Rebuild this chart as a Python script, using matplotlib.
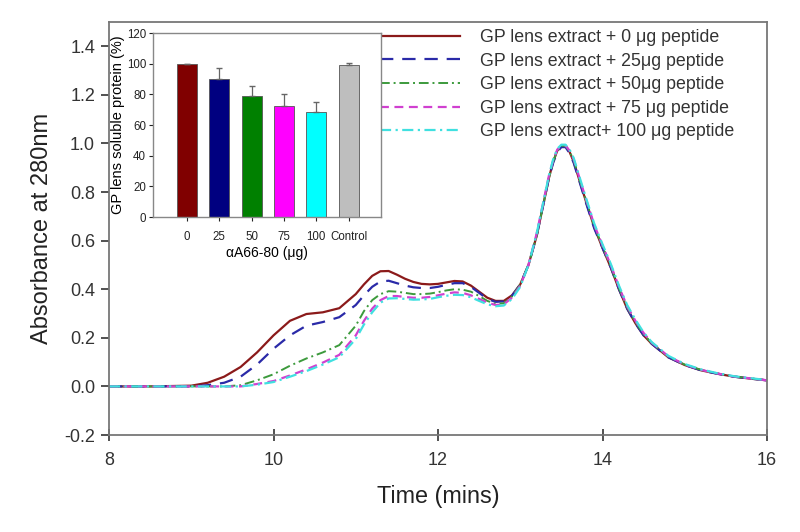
import matplotlib
matplotlib.use("Agg")
import matplotlib.pyplot as plt

plt.rcParams['font.family'] = ['Liberation Sans', 'DejaVu Sans']

# ---- main chromatogram data ----
time = [8.0, 8.5, 9.0, 9.2, 9.4, 9.6, 9.8,
        10.0, 10.2, 10.4, 10.6, 10.8,
        11.0, 11.1, 11.2, 11.3, 11.4, 11.5, 11.6, 11.7, 11.8, 11.9,
        12.0, 12.1, 12.2, 12.3, 12.4, 12.5, 12.6, 12.7, 12.8, 12.9,
        13.0, 13.1, 13.2,
        13.25, 13.3, 13.35, 13.4, 13.45, 13.5, 13.55, 13.6, 13.65, 13.7, 13.75, 13.8,
        13.9, 14.0, 14.1, 14.2, 14.3, 14.4, 14.5, 14.6,
        14.8, 15.0, 15.2, 15.4, 15.6, 15.8, 16.0]

abs_0 = [0.0, 0.0, 0.003, 0.015, 0.04, 0.08, 0.14,
         0.21, 0.27, 0.298, 0.305, 0.322,
         0.38, 0.42, 0.455, 0.474, 0.475, 0.46, 0.443, 0.43, 0.422, 0.42,
         0.422, 0.428, 0.434, 0.432, 0.415, 0.39, 0.365, 0.352, 0.352, 0.375,
         0.42, 0.50, 0.62,
         0.70, 0.78, 0.86, 0.925, 0.97, 0.99, 0.99, 0.965, 0.925, 0.87, 0.815, 0.76,
         0.655, 0.57, 0.49, 0.40, 0.32, 0.26, 0.21, 0.175,
         0.12, 0.088, 0.066, 0.052, 0.04, 0.032, 0.025]
abs_25 = [0.0, 0.0, 0.0, 0.005, 0.015, 0.04, 0.09,
          0.155, 0.21, 0.25, 0.265, 0.285,
          0.335, 0.375, 0.41, 0.432, 0.435, 0.425, 0.415, 0.408, 0.405, 0.405,
          0.41, 0.418, 0.425, 0.425, 0.41, 0.385, 0.36, 0.348, 0.35, 0.373,
          0.42, 0.50, 0.62,
          0.70, 0.78, 0.86, 0.92, 0.965, 0.985, 0.985, 0.96, 0.92, 0.865, 0.81, 0.755,
          0.65, 0.57, 0.49, 0.40, 0.32, 0.26, 0.21, 0.175,
          0.12, 0.088, 0.066, 0.052, 0.04, 0.032, 0.025]
abs_50 = [0.0, 0.0, 0.0, 0.0, 0.0, 0.005, 0.025,
          0.05, 0.085, 0.115, 0.14, 0.17,
          0.25, 0.31, 0.355, 0.38, 0.392, 0.39, 0.385, 0.38, 0.38, 0.382,
          0.388, 0.395, 0.40, 0.398, 0.39, 0.372, 0.352, 0.34, 0.342, 0.37,
          0.42, 0.50, 0.62,
          0.70, 0.78, 0.86, 0.925, 0.97, 0.99, 0.99, 0.967, 0.93, 0.875, 0.82, 0.765,
          0.66, 0.575, 0.495, 0.405, 0.325, 0.265, 0.215, 0.178,
          0.122, 0.09, 0.068, 0.053, 0.041, 0.033, 0.025]
abs_75 = [0.0, 0.0, 0.0, 0.0, 0.0, 0.0, 0.01,
          0.022, 0.045, 0.07, 0.098, 0.13,
          0.21, 0.27, 0.32, 0.355, 0.372, 0.372, 0.368, 0.365, 0.365, 0.368,
          0.375, 0.382, 0.387, 0.385, 0.375, 0.36, 0.345, 0.335, 0.338, 0.365,
          0.415, 0.50, 0.63,
          0.71, 0.79, 0.87, 0.93, 0.975, 0.99, 0.992, 0.97, 0.935, 0.88, 0.825, 0.77,
          0.665, 0.58, 0.50, 0.41, 0.33, 0.27, 0.22, 0.18,
          0.124, 0.09, 0.068, 0.053, 0.041, 0.033, 0.025]
abs_100 = [0.0, 0.0, 0.0, 0.0, 0.0, 0.0, 0.007,
           0.018, 0.04, 0.063, 0.09, 0.12,
           0.195, 0.255, 0.305, 0.345, 0.362, 0.363, 0.36, 0.357, 0.358, 0.36,
           0.367, 0.373, 0.377, 0.376, 0.367, 0.352, 0.338, 0.33, 0.333, 0.36,
           0.41, 0.50, 0.63,
           0.71, 0.79, 0.87, 0.935, 0.978, 0.995, 0.995, 0.975, 0.94, 0.885, 0.83, 0.775,
           0.67, 0.585, 0.505, 0.415, 0.335, 0.275, 0.222, 0.182,
           0.126, 0.092, 0.07, 0.054, 0.042, 0.034, 0.026]

labels = ["GP lens extract + 0 \u03bcg peptide",
          "GP lens extract + 25\u03bcg peptide",
          "GP lens extract + 50\u03bcg peptide",
          "GP lens extract + 75 \u03bcg peptide",
          "GP lens extract+ 100 \u03bcg peptide"]

# ---- inset bar data ----
bar_cats = ["0", "25", "50", "75", "100", "Control"]
bar_vals = [100, 90.0, 79.2, 72.2, 68.3, 99.3]
bar_errs = [0, 7.4, 6.1, 8.3, 6.7, 1.0]
bar_colors = ["#800000", "#000080", "#008000", "#FF00FF", "#00FFFF", "#BEBEBE"]

fig = plt.figure(figsize=(8.0, 5.32), dpi=100)
ax = fig.add_axes([109/800, 1-435/532, (767-109)/800, (435-22)/532])

styles = [
    dict(color="#8B1A1A", ls="-", lw=1.6),
    dict(color="#2A2AA8", ls=(0, (6, 4)), lw=1.6),
    dict(color="#3C9A3C", ls=(0, (5, 2, 1, 2)), lw=1.4),
    dict(color="#D040D0", ls=(0, (4, 2.5)), lw=1.6),
    dict(color="#40E0E0", ls=(0, (5, 2, 1, 2)), lw=1.6),
]
series = [abs_0, abs_25, abs_50, abs_75, abs_100]
for vals, st, lab in zip(series, styles, labels):
    ax.plot(time, vals, label=lab, **st)

ax.set_xlim(8, 16)
ax.set_ylim(-0.2, 1.5)
ax.set_xticks([8, 10, 12, 14, 16])
ax.set_yticks([-0.2, 0.0, 0.2, 0.4, 0.6, 0.8, 1.0, 1.2, 1.4])
ax.set_yticklabels(["-0.2", "0.0", "0.2", "0.4", "0.6", "0.8", "1.0", "1.2", "1.4"])
ax.tick_params(axis='both', labelsize=13, colors="#333333", length=6, width=1.2)
ax.tick_params(axis='x', direction='inout', length=8, pad=8)
ax.tick_params(axis='y', direction='out', pad=4)
for s in ax.spines.values():
    s.set_color("#777777")
    s.set_linewidth(1.3)
ax.set_xlabel("Time (mins)", fontsize=16.8, color="#222222", labelpad=12)
ax.set_ylabel("Absorbance at 280nm", fontsize=17, color="#222222", labelpad=8)

leg = ax.legend(loc="upper left", bbox_to_anchor=(380/800, 1-29/532),
                bbox_transform=fig.transFigure, frameon=False, fontsize=12.8,
                handlelength=4.5, handletextpad=1.1, labelspacing=0.37,
                borderpad=0, borderaxespad=0)
for t in leg.get_texts():
    t.set_color("#333333")

# ---- inset ----
ins = fig.add_axes([153/800, 1-217/532, (381-153)/800, (217-33)/532])
xs = list(range(len(bar_cats)))
ins.bar(xs, bar_vals, width=0.62, color=bar_colors, edgecolor="#555555", linewidth=0.6, zorder=2)
ins.errorbar(xs, bar_vals, yerr=[[0]*len(bar_errs), bar_errs], fmt='none',
             ecolor="#666666", elinewidth=0.9, capsize=2.5, zorder=3)
ins.set_xlim(-1.05, 6.0)
ins.set_ylim(0, 120)
ins.set_yticks([0, 20, 40, 60, 80, 100, 120])
ins.set_xticks(xs)
ins.set_xticklabels(bar_cats)
ins.tick_params(axis='both', labelsize=8.3, colors="#222222", length=3, width=0.8, pad=2)
ins.tick_params(axis='x', pad=7)
for s in ins.spines.values():
    s.set_color("#888888")
    s.set_linewidth(1.0)
ins.set_xlabel("\u03b1A66-80 (\u03bcg)", fontsize=10, labelpad=2)
ins.set_ylabel("GP lens soluble protein (%)", fontsize=10.5, labelpad=1)

fig.savefig("out.png", dpi=100)
